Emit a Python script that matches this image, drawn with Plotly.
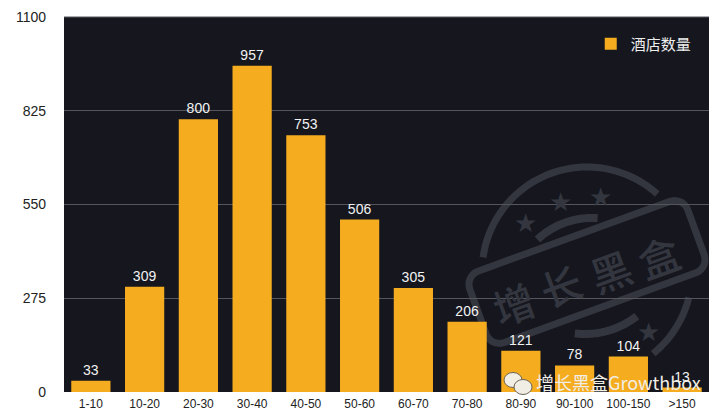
import numpy as np
import plotly.graph_objects as go

categories = ["1-10", "10-20", "20-30", "30-40", "40-50", "50-60", "60-70", "70-80", "80-90", "90-100", "100-150", ">150"]
hotel_counts = [33, 309, 800, 957, 753, 506, 305, 206, 121, 78, 104, 13]
y_ticks = [0, 275, 550, 825, 1100]
series_name = "酒店数量"

W, H = 726, 417
L, R, T, B = 64, 17, 17, 25
PW, PH = W - L - R, H - T - B
FONT = "Liberation Sans, Noto Sans CJK SC, sans-serif"
CJK = "Noto Sans CJK SC, sans-serif"
STAMP = "#34363f"


def px(x):
    return (x - L) / PW


def py(y):
    return 1 - (y - T) / PH


def poly(points):
    return "M " + " L ".join(f"{px(x):.4f},{py(y):.4f}" for x, y in points)


def arc(cx, cy, r, a0, a1):
    angles = np.radians(np.linspace(a0, a1, 40))
    return poly([(cx + r * np.cos(a), cy - r * np.sin(a)) for a in angles])


def rounded_rect(cx, cy, hw, hh, rad, rot):
    pts = []
    for (ox, oy, start) in [(hw - rad, hh - rad, 0), (-hw + rad, hh - rad, 90), (-hw + rad, -hh + rad, 180), (hw - rad, -hh + rad, 270)]:
        for a in np.radians(np.linspace(start, start + 90, 8)):
            pts.append((ox + rad * np.cos(a), oy + rad * np.sin(a)))
    t = np.radians(rot)
    out = [(cx + x * np.cos(t) - y * np.sin(t), cy + x * np.sin(t) + y * np.cos(t)) for x, y in pts]
    return poly(out) + " Z"


def ellipse(cx, cy, rx, ry, fill, line):
    return dict(type="circle", xref="paper", yref="paper", x0=px(cx - rx), x1=px(cx + rx), y0=py(cy + ry), y1=py(cy - ry),
                fillcolor=fill, line=dict(color=line, width=1), layer="above")


cx, cy = 587, 272
stamp_paths = [
    (arc(cx, cy, 105, 172, 48), 7),
    (arc(cx, cy, 105, -14, -51), 7),
    (arc(592, 298, 80, 133, 86), 8),
    (arc(585, 250, 84, -97, -52), 8),
    (rounded_rect(cx, cy, 116, 38, 14, -20), 7),
]
shapes = [
    dict(type="path", path=p, xref="paper", yref="paper", line=dict(color=STAMP, width=w), layer="below")
    for p, w in stamp_paths
]
shapes.append(dict(type="line", xref="paper", yref="paper", x0=0, x1=1, y0=1, y1=1, line=dict(color="#55565c", width=1)))
shapes.append(ellipse(513, 380, 9, 7.5, "#f1eee6", "#6b6454"))
shapes.append(ellipse(523, 387, 9, 7.5, "#f1eee6", "#6b6454"))

annotations = []
for ch, x, y in [("增", 513, 303), ("长", 560, 285), ("黑", 610, 270), ("盒", 658, 256)]:
    annotations.append(dict(text=ch, xref="paper", yref="paper", x=px(x), y=py(y), showarrow=False,
                            xanchor="center", yanchor="middle", textangle=-20,
                            font=dict(family=CJK, size=41, weight=500, color=STAMP)))
for x, y, s in [(525, 223, 26), (560, 202, 26), (600, 197, 26), (648, 332, 26)]:
    annotations.append(dict(text="★", xref="paper", yref="paper", x=px(x), y=py(y), showarrow=False,
                            xanchor="center", yanchor="middle",
                            font=dict(family="DejaVu Sans", size=s, color=STAMP)))
annotations.append(dict(text="增长黑盒Growthbox", xref="paper", yref="paper", x=px(703), y=py(382), xanchor="right",
                        yanchor="middle", showarrow=False,
                        font=dict(family="Noto Sans CJK SC, Liberation Sans, sans-serif", size=18, color="#f1eee6")))

fig = go.Figure(go.Bar(
    x=categories,
    y=hotel_counts,
    name=series_name,
    text=hotel_counts,
    textposition="outside",
    cliponaxis=False,
    textfont=dict(family=FONT, size=14, color="#f2f2f2"),
    marker=dict(color="#f5ac1f", line=dict(width=0)),
    showlegend=True,
))
fig.update_layout(
    width=W, height=H,
    margin=dict(l=L, r=R, t=T, b=B, pad=0),
    paper_bgcolor="#ffffff",
    plot_bgcolor="#15161e",
    bargap=0.27,
    font=dict(family=FONT, color="#222222"),
    shapes=shapes,
    annotations=annotations,
    legend=dict(x=0.981, y=0.972, xanchor="right", yanchor="top", bgcolor="rgba(0,0,0,0)",
                font=dict(family=CJK, size=15, color="#eeeeee"), itemwidth=30),
    xaxis=dict(type="category", tickfont=dict(size=12, color="#222222"), ticks="", showgrid=False, zeroline=False,
               showline=False, automargin=False, ticklabelstandoff=3),
    yaxis=dict(range=[0, 1100], tickvals=y_ticks, tickfont=dict(size=14, color="#222222"), ticks="",
               gridcolor="#55565c", gridwidth=1, zeroline=False, showline=False, automargin=False,
               ticklabelstandoff=17),
)
fig.write_html("out.html", config={"displayModeBar": False}, post_script="document.body.style.margin='0';")
